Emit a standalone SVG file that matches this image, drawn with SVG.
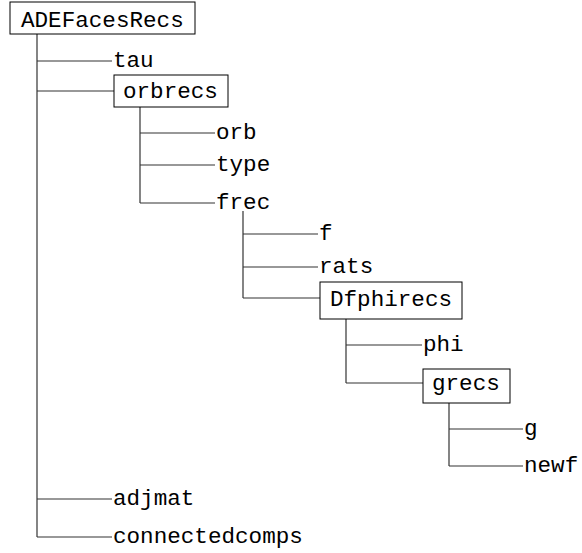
<svg xmlns="http://www.w3.org/2000/svg" width="582" height="553" viewBox="0 0 582 553">
<style>
text { font-family: "Liberation Mono", "Courier New", monospace; font-size: 22.6px; fill: #000; }
.box { fill: #fff; stroke: #000; stroke-width: 1; }
#connectors line { stroke: #333; stroke-width: 1.2; }
</style>
<rect width="582" height="553" fill="#fff"/>
<g id="connectors">
  <line x1="37" y1="34" x2="37" y2="537"/>
  <line x1="37" y1="61" x2="112" y2="61"/>
  <line x1="37" y1="91" x2="114" y2="91"/>
  <line x1="37" y1="499" x2="112" y2="499"/>
  <line x1="37" y1="537" x2="112" y2="537"/>
  <line x1="140" y1="107" x2="140" y2="203"/>
  <line x1="140" y1="133" x2="215" y2="133"/>
  <line x1="140" y1="165" x2="215" y2="165"/>
  <line x1="140" y1="203" x2="215" y2="203"/>
  <line x1="243" y1="211" x2="243" y2="298"/>
  <line x1="243" y1="234" x2="318" y2="234"/>
  <line x1="243" y1="267" x2="318" y2="267"/>
  <line x1="243" y1="298" x2="320" y2="298"/>
  <line x1="346" y1="319" x2="346" y2="383"/>
  <line x1="346" y1="345" x2="422" y2="345"/>
  <line x1="346" y1="383" x2="423" y2="383"/>
  <line x1="449" y1="403" x2="449" y2="466"/>
  <line x1="449" y1="429" x2="523" y2="429"/>
  <line x1="449" y1="466" x2="523" y2="466"/>
</g>
<g id="ADEFacesRecs"><rect class="box" x="10" y="2" width="185" height="32"/><text x="21" y="27">ADEFacesRecs</text></g>
<g id="tau"><text x="113" y="67">tau</text></g>
<g id="orbrecs"><rect class="box" x="114" y="75" width="114" height="32"/><text x="123" y="98">orbrecs</text></g>
<g id="orb"><text x="216" y="139">orb</text></g>
<g id="type"><text x="216" y="171">type</text></g>
<g id="frec"><text x="216" y="209">frec</text></g>
<g id="f"><text x="319" y="240">f</text></g>
<g id="rats"><text x="319" y="273">rats</text></g>
<g id="Dfphirecs"><rect class="box" x="320" y="282" width="142" height="37"/><text x="330" y="306">Dfphirecs</text></g>
<g id="phi"><text x="423" y="351">phi</text></g>
<g id="grecs"><rect class="box" x="423" y="369" width="87" height="34"/><text x="432" y="390">grecs</text></g>
<g id="g"><text x="524" y="435">g</text></g>
<g id="newf"><text x="524" y="472">newf</text></g>
<g id="adjmat"><text x="113" y="505">adjmat</text></g>
<g id="connectedcomps"><text x="113" y="543">connectedcomps</text></g>
</svg>
